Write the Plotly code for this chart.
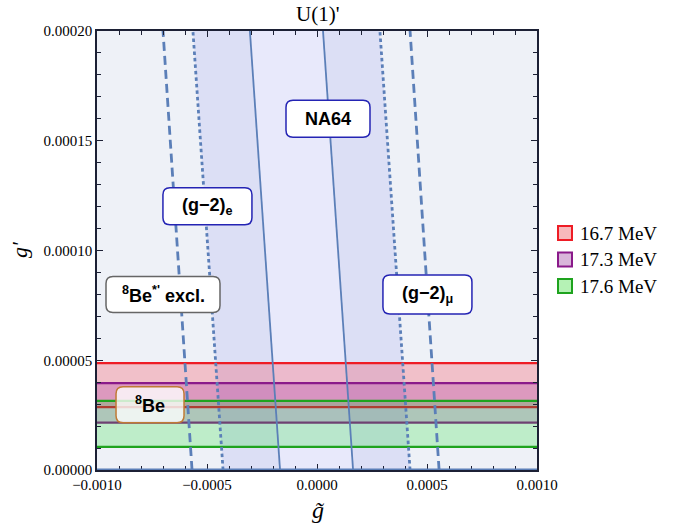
import plotly.graph_objects as go

# ---------------- data ----------------
g_prime_ends = [0.0, 0.0002]          # bottom, top of each exclusion line
ge_dashed = [-0.000568, -0.000700]
ge_dotted = [-0.000427, -0.000564]
na64_left = [-0.000168, -0.000305]
na64_right = [0.000164, 0.0000273]
gmu_dotted = [0.000423, 0.000286]
gmu_dashed = [0.000555, 0.000423]

x_range = [-0.001, 0.001]
y_range = [0.0, 0.0002]

band_names = ["16.7 MeV", "17.3 MeV", "17.6 MeV"]
band_upper = [0.0000487, 0.0000396, 0.0000315]
band_lower = [0.0000286, 0.0000216, 0.0000105]

x_tickvals = [-0.001, -0.0005, 0.0, 0.0005, 0.001]
y_tickvals = [0.0, 0.00005, 0.0001, 0.00015, 0.0002]

# ---------------- styles ----------------
band_line_colors = ["#ee1c25", "#8a1a8a", "#1ea31e"]
band_fill_colors = ["rgba(255,0,20,0.20)", "rgba(140,0,150,0.20)", "rgba(0,225,20,0.20)"]
legend_fills = ["#f7b8bb", "#d9b6da", "#b5f2b5"]
line_blue = "#5b7fb8"
bg_color = "#eef1f7"
side_shade = "#dcdff5"
centre_shade = "#e8e9fb"

fig = go.Figure()

def poly(left, right):
    xs = [left[0], left[1], right[1], right[0], left[0]]
    ys = [g_prime_ends[0], g_prime_ends[1], g_prime_ends[1], g_prime_ends[0], g_prime_ends[0]]
    return xs, ys

# shaded regions
xs, ys = poly(ge_dotted, gmu_dotted)
fig.add_trace(go.Scatter(x=xs, y=ys, fill="toself", fillcolor=side_shade, mode="none",
                         showlegend=False, hoverinfo="skip"))
xs, ys = poly(na64_left, na64_right)
fig.add_trace(go.Scatter(x=xs, y=ys, fill="toself", fillcolor=centre_shade, mode="none",
                         showlegend=False, hoverinfo="skip"))

# bands
for name, lo, hi, lc, fc in zip(band_names, band_lower, band_upper, band_line_colors, band_fill_colors):
    fig.add_trace(go.Scatter(x=[x_range[0], x_range[1], x_range[1], x_range[0], x_range[0]],
                             y=[lo, lo, hi, hi, lo], fill="toself", fillcolor=fc, mode="none",
                             showlegend=False, hoverinfo="skip"))
    for v in (lo, hi):
        fig.add_trace(go.Scatter(x=x_range, y=[v, v], mode="lines",
                                 line=dict(color=lc, width=2.2), showlegend=False, hoverinfo="skip"))

# exclusion lines
for xs_line, dash, w in [(ge_dashed, "9px,5px", 2.8), (ge_dotted, "3.5px,3px", 2.8),
                         (na64_left, "solid", 1.8), (na64_right, "solid", 1.8),
                         (gmu_dotted, "3.5px,3px", 2.8), (gmu_dashed, "9px,5px", 2.8)]:
    fig.add_trace(go.Scatter(x=xs_line, y=g_prime_ends, mode="lines",
                             line=dict(color=line_blue, width=w, dash=dash),
                             showlegend=False, hoverinfo="skip"))

# ---------------- labels ----------------
def rounded_path(w, h, r):
    x0, x1, y0, y1 = -w / 2, w / 2, -h / 2, h / 2
    return (f"M {x0+r},{y0} L {x1-r},{y0} Q {x1},{y0} {x1},{y0+r} L {x1},{y1-r} "
            f"Q {x1},{y1} {x1-r},{y1} L {x0+r},{y1} Q {x0},{y1} {x0},{y1-r} "
            f"L {x0},{y0+r} Q {x0},{y0} {x0+r},{y0} Z")

labels = [
    ("NA64", 0.00005, 0.000160, 84, 37, "#2424b4", "white"),
    ("(g−2)<sub>e</sub>", -0.000498, 0.0001202, 89, 37, "#2424b4", "white"),
    ("<sup>8</sup>Be<sup>*'</sup> excl.", -0.000700, 0.0000799, 114, 36, "#666666", "white"),
    ("(g−2)<sub>μ</sub>", 0.000502, 0.0000799, 89, 39, "#2424b4", "white"),
    ("<sup>8</sup>Be", -0.000759, 0.0000297, 68, 36, "#c07a35", "rgba(255,255,255,0.78)"),
]
shapes = []
annotations = []
for text, cx, cy, w, h, bc, fc in labels:
    shapes.append(dict(type="path", xref="x", yref="y", xsizemode="pixel", ysizemode="pixel",
                       xanchor=cx, yanchor=cy, path=rounded_path(w, h, 7),
                       fillcolor=fc, line=dict(color=bc, width=1.5), layer="above"))
    annotations.append(dict(x=cx, y=cy, xref="x", yref="y", text=f"<b>{text}</b>", showarrow=False,
                            xanchor="center", yanchor="middle",
                            font=dict(family="Liberation Sans, Arial", size=18, color="black")))

# bottom blue line at g' = 0
shapes.append(dict(type="line", xref="paper", yref="y", x0=0, x1=1, y0=0, y1=0,
                   line=dict(color=line_blue, width=3), layer="above"))

# page geometry (body margin removed by post_script below)
plot_l, plot_r, plot_t, plot_b = 97, 537, 31, 470
fig_w, fig_h = 688, 529

def px2paper(px, py):
    return (px - plot_l) / (plot_r - plot_l), (plot_b - py) / (plot_b - plot_t)

# legend (manual)
for i, (name, lc, lf) in enumerate(zip(band_names, band_line_colors, legend_fills)):
    cy_px = 233 + i * 26.5
    x0, y0 = px2paper(558, cy_px - 7)
    x1, y1 = px2paper(572, cy_px + 7)
    shapes.append(dict(type="rect", xref="paper", yref="paper", x0=x0, x1=x1, y0=y0, y1=y1,
                       fillcolor=lf, line=dict(color=lc, width=2)))
    tx, ty = px2paper(578, cy_px)
    annotations.append(dict(x=tx, y=ty, xref="paper", yref="paper", xanchor="left", yanchor="middle",
                            text=name, showarrow=False,
                            font=dict(family="Liberation Serif", size=19, color="black")))

# title and axis labels
tx, ty = px2paper(317, 14)
annotations.append(dict(x=tx, y=ty, xref="paper", yref="paper", text="U(1)'", showarrow=False,
                        xanchor="center", yanchor="middle",
                        font=dict(family="Liberation Serif", size=21, color="black")))
tx, ty = px2paper(318, 510)
annotations.append(dict(x=tx, y=ty, xref="paper", yref="paper", text="<i>g̃</i>", showarrow=False,
                        xanchor="center", yanchor="middle",
                        font=dict(family="Liberation Serif", size=24, color="black")))
tx, ty = px2paper(20, 250)
annotations.append(dict(x=tx, y=ty, xref="paper", yref="paper", text="<i>g'</i>", showarrow=False,
                        xanchor="center", yanchor="middle",
                        textangle=-90, font=dict(family="Liberation Serif", size=22, color="black")))

axis_common = dict(showline=True, linecolor="#1c2035", linewidth=1.6, mirror="allticks",
                   ticks="inside", ticklen=6, tickwidth=1.2, tickcolor="#1c2035",
                   showgrid=False, zeroline=False,
                   tickfont=dict(family="Liberation Serif", size=15, color="black"))

fig.update_layout(
    width=fig_w, height=fig_h,
    margin=dict(l=plot_l, r=fig_w - plot_r, t=plot_t, b=fig_h - plot_b),
    paper_bgcolor="white", plot_bgcolor=bg_color,
    showlegend=False,
    xaxis=dict(range=x_range, tickvals=x_tickvals, tickformat=".4f",
               minor=dict(dtick=0.0001, ticks="inside", ticklen=4, tickcolor="#1c2035"),
               **axis_common),
    yaxis=dict(range=y_range, tickvals=y_tickvals, tickformat=".5f",
               minor=dict(dtick=0.00001, ticks="inside", ticklen=4, tickcolor="#1c2035"),
               **axis_common),
    shapes=shapes,
    annotations=annotations,
)

fig.write_html("out.html", config={"displayModeBar": False},
               post_script="document.body.style.margin='0';document.body.style.overflow='hidden';")
